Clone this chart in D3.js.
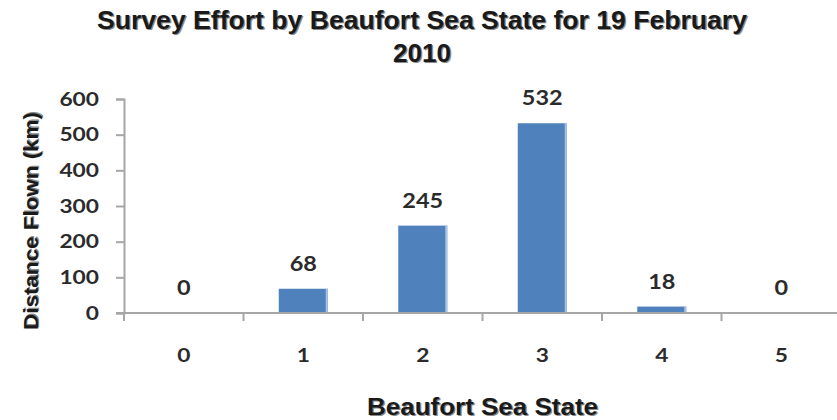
<!DOCTYPE html>
<html>
<head>
<meta charset="utf-8">
<script src="https://cdn.jsdelivr.net/npm/d3@7/dist/d3.min.js"></script>
<style>
  html, body { margin: 0; padding: 0; background: #fff; }
  svg { display: block; }
  .num { font-family: Lato, "Open Sans", sans-serif; font-weight: 700; fill: #2b2b2b; }
  .ttl { font-family: "Liberation Sans", Arial, sans-serif; font-weight: 700; fill: #1a1a1a; }
  .shadow { fill: #8a8a8a; }
</style>
</head>
<body>
<svg id="chart" width="837" height="420"></svg>
<script>
// Survey distance flown at each Beaufort sea state
const seaStates = ["0", "1", "2", "3", "4", "5"];
const distanceKm = [0, 68, 245, 532, 18, 0];
const yTicks = [0, 100, 200, 300, 400, 500, 600];

const svg = d3.select("#chart");
const plot = { left: 124, right: 841, top: 99, bottom: 313 };
const axisColor = "#a6a6a6";
const barColor = "#4f81bd";
const digitW = 13.2;

const x = d3.scaleBand().domain(seaStates).range([plot.left, plot.right]).paddingInner(0.59).paddingOuter(0.295);
const xBand = d3.scaleBand().domain(seaStates).range([plot.left, plot.right]);
const y = d3.scaleLinear().domain([0, 600]).range([plot.bottom, plot.top]);

// Bold heading text with a soft grey drop shadow
function shadowText(parent, opts) {
  const g = parent.append("g").attr("transform", opts.transform || null);
  [["shadow", 1.3], ["", 0]].forEach(([cls, off]) => {
    g.append("text").attr("class", "ttl " + cls)
      .attr("x", opts.x + off).attr("y", opts.y + off)
      .attr("font-size", opts.size).attr("text-anchor", "middle")
      .attr("textLength", opts.len || null)
      .attr("lengthAdjust", "spacingAndGlyphs")
      .text(opts.text);
  });
}

// Title
shadowText(svg, { x: 422, y: 29, size: 25, len: 650, text: "Survey Effort by Beaufort Sea State for 19 February" });
shadowText(svg, { x: 422, y: 62, size: 25, len: 58, text: "2010" });

// Y axis
const yAxis = svg.append("g").attr("transform", `translate(${plot.left},0)`)
  .call(d3.axisLeft(y).tickValues(yTicks).tickSize(8).tickPadding(17).tickFormat(d3.format("d")));
yAxis.select(".domain").attr("stroke", axisColor).attr("stroke-width", 2);
yAxis.selectAll(".tick line").attr("stroke", axisColor).attr("stroke-width", 2);
yAxis.selectAll(".tick text").attr("class", "num").attr("font-size", 19).attr("fill", "#2b2b2b")
  .attr("textLength", d => String(d).length * digitW).attr("lengthAdjust", "spacingAndGlyphs");

// Bars (with a light highlight along the right edge)
const bars = svg.append("g");
bars.selectAll("rect.bar").data(distanceKm).join("rect").attr("class", "bar")
  .attr("x", (d, i) => x(seaStates[i]))
  .attr("width", x.bandwidth())
  .attr("y", d => y(d))
  .attr("height", d => plot.bottom - y(d))
  .attr("fill", barColor);
bars.selectAll("rect.edge").data(distanceKm).join("rect").attr("class", "edge")
  .attr("x", (d, i) => x(seaStates[i]) + x.bandwidth() - 2)
  .attr("width", 2)
  .attr("y", d => y(d))
  .attr("height", d => plot.bottom - y(d))
  .attr("fill", "#a7c2e4");

// X axis
const xAxis = svg.append("g").attr("transform", `translate(0,${plot.bottom})`)
  .call(d3.axisBottom(xBand).tickSize(0).tickPadding(36));
xAxis.select(".domain").attr("stroke", axisColor).attr("stroke-width", 2)
  .attr("d", `M${plot.left - 8},0H${plot.right}`);
xAxis.selectAll(".tick text").attr("class", "num").attr("font-size", 19).attr("fill", "#2b2b2b")
  .attr("textLength", digitW).attr("lengthAdjust", "spacingAndGlyphs");
// category boundary ticks
xAxis.selectAll("line.sep").data(seaStates).join("line").attr("class", "sep")
  .attr("x1", d => xBand(d)).attr("x2", d => xBand(d))
  .attr("y1", 0).attr("y2", 8)
  .attr("stroke", axisColor).attr("stroke-width", 2);

// Value labels
svg.append("g").selectAll("text").data(distanceKm).join("text")
  .attr("class", "num").attr("font-size", 20).attr("text-anchor", "middle")
  .attr("x", (d, i) => xBand(seaStates[i]) + xBand.bandwidth() / 2)
  .attr("y", d => y(d) - 18)
  .attr("textLength", d => String(d).length * 13.6)
  .attr("lengthAdjust", "spacingAndGlyphs")
  .text(d => d);

// Axis titles
shadowText(svg, { x: (plot.left + plot.right) / 2, y: 415, size: 23, len: 231, text: "Beaufort Sea State" });
shadowText(svg, { x: 0, y: 0, size: 21, len: 218, text: "Distance Flown (km)",
  transform: "translate(38,221) rotate(-90)" });
</script>
</body>
</html>
